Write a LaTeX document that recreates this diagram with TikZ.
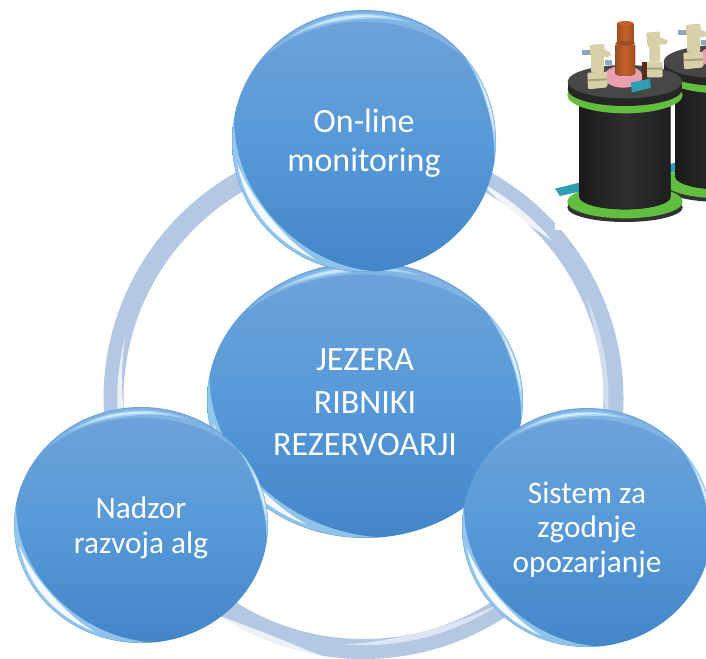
\documentclass[tikz,border=0pt]{standalone}
\usepackage{fontspec}
\setmainfont{Carlito}
\usetikzlibrary{shapes.geometric}
\definecolor{discTop}{HTML}{6FA3D9}
\definecolor{discMid}{HTML}{5799D8}
\definecolor{discBot}{HTML}{4386C8}
\definecolor{ringBlue}{HTML}{B4C7E3}
\definecolor{glow}{HTML}{A9D7F6}
\definecolor{flangeGreen}{HTML}{62BE3E}
\definecolor{tealPart}{HTML}{2F9DB2}
\definecolor{beigePart}{HTML}{D8D0A8}
\definecolor{beigeDark}{HTML}{A8A080}
\definecolor{postMain}{HTML}{C4622C}
\definecolor{postDark}{HTML}{A04E20}
\definecolor{collarPink}{HTML}{E8A0B0}
\definecolor{stubGrey}{HTML}{8FA6BC}
\definecolor{stickBrown}{HTML}{5A2A1C}
\tikzset{
  disc/.style={ellipse,inner sep=0pt,top color=discTop,bottom color=discBot,middle color=discMid},
  disctext/.style={text=white,align=center,inner sep=0pt,font=\fontsize{#1}{#1}\selectfont},
  ringline/.style={ellipse,draw=ringBlue,line width=20pt,inner sep=0pt,minimum width=500pt,minimum height=500pt},
  beige/.style={fill=beigePart,rounded corners=2pt},
  beigeband/.style={fill=beigeDark,rounded corners=1pt}
}
% crescent on the unit circle: from angle a to b, radius r, greatest thickness w
\newcommand{\crescent}[6]{%
  \fill[#5,opacity=#6]
    plot[domain=#1:#2,samples=40,smooth] ({#3*cos(\x)},{#3*sin(\x)})
    -- plot[domain=#2:#1,samples=40,smooth]
      ({(#3-#4*sin(180/((#2)-(#1))*(\x-(#1))))*cos(\x)},{(#3-#4*sin(180/((#2)-(#1))*(\x-(#1))))*sin(\x)})
    -- cycle;}
\newcommand{\bevel}[3]{%
  \begin{scope}[shift={(#1.center)},x=#2pt,y=#3pt]
    \crescent{40}{140}{0.99}{0.08}{glow}{0.35}
    \crescent{68}{126}{0.97}{0.04}{glow}{0.9}
    \crescent{78}{116}{0.96}{0.018}{white}{0.5}
    \crescent{170}{275}{0.998}{0.09}{glow}{0.75}
    \crescent{190}{248}{0.975}{0.055}{white}{0.9}
    \crescent{-8}{40}{0.998}{0.03}{glow}{0.9}
    \crescent{2}{30}{0.99}{0.014}{white}{0.7}
  \end{scope}}
\newcommand{\tank}{%
  % bottom flange
  \fill[black!80] (255,622) ellipse [x radius=173,y radius=44];
  \fill[flangeGreen] (255,605) ellipse [x radius=173,y radius=50];
  % foot
  \fill[tealPart] (45,566) -- (118,548) -- (118,575) -- (60,588) -- cycle;
  % body
  \fill[left color=black!90,right color=black!88,middle color=black!82]
    (118,300) -- (392,300) -- (392,590) arc[start angle=0,end angle=180,x radius=137,y radius=38] -- cycle;
  % top flange
  \fill[flangeGreen] (255,285) ellipse [x radius=173,y radius=55];
  \fill[black!85] (255,268) ellipse [x radius=172,y radius=50];
  \fill[black!85] (83,245) rectangle (427,268);
  \fill[black!72] (255,245) ellipse [x radius=172,y radius=50];
  % collar
  \fill[collarPink] (250,230) ellipse [x radius=58,y radius=33];
  % right fitting
  \fill[beige] (320,185) rectangle (368,232);
  \fill[beigeband] (320,203) rectangle (368,209);
  \fill[beige] (328,135) rectangle (360,185);
  \fill[beige] (318,98) -- (360,94) -- (362,138) -- (323,142) -- cycle;
  \fill[beige] (355,110) -- (385,122) -- (380,135) -- (355,132) -- cycle;
  % post
  \fill[left color=postDark,right color=postDark,middle color=postMain]
    (226,135) -- (285,135) -- (285,220) arc[start angle=0,end angle=180,x radius=29.5,y radius=8] -- cycle;
  \fill[left color=postDark,right color=postDark,middle color=postMain]
    (232,70) -- (280,70) -- (280,128) -- (232,128) -- cycle;
  \fill[postMain] (256,70) ellipse [x radius=24,y radius=7];
  \fill[postDark] (255.5,130) ellipse [x radius=29.5,y radius=7];
  % stick and block
  \fill[stickBrown] (306,187) rectangle (322,240);
  \fill[tealPart] (272,248) -- (330,236) -- (332,264) -- (276,277) -- cycle;
  % left fitting
  \fill[stubGrey] (125,150) rectangle (155,164);
  \fill[stubGrey] (195,180) rectangle (215,195);
  \fill[beige] (142,218) -- (201,215) -- (203,262) -- (144,268) -- cycle;
  \fill[beigeband] (142,238) -- (202,235) -- (202,241) -- (143,244) -- cycle;
  \fill[beige] (153,170) rectangle (192,218);
  \fill[beige] (148,135) -- (193,131) -- (195,172) -- (153,176) -- cycle;
  \fill[beige] (188,146) -- (215,158) -- (210,172) -- (188,170) -- cycle;
}
\begin{document}
\begin{tikzpicture}[x=1pt,y=-1pt]
  \useasboundingbox (0,0) rectangle (706,658);
  \clip (0,0) rectangle (706,658);
  \fill[white] (0,0) rectangle (706,658);

  % ring
  \node[ringline] (ring) at (363.5,399) {};
  \begin{scope}[shift={(ring.center)},x=250pt,y=250pt]
    \crescent{165}{225}{0.985}{0.03}{white}{0.75}
    \crescent{40}{62}{0.985}{0.03}{white}{0.8}
    \crescent{-8}{25}{0.98}{0.025}{white}{0.4}
    \crescent{265}{305}{0.985}{0.025}{white}{0.55}
    \crescent{235}{262}{1.045}{0.03}{white}{0.75}
  \end{scope}

  % centre disc
  \node[disc,minimum width=316pt,minimum height=276pt] (centre) at (365,400) {};
  \bevel{centre}{158}{138}
  % outer discs
  \node[disc,minimum width=264pt,minimum height=262pt] (top) at (364,141) {};
  \bevel{top}{132}{131}
  \node[disc,minimum width=254pt,minimum height=236pt] (left) at (141,525) {};
  \bevel{left}{127}{118}
  \node[disc,minimum width=250pt,minimum height=239pt] (right) at (587,527.5) {};
  \bevel{right}{125}{119.5}

  % labels
  \node[disctext=34] (tTop) at ([yshift=-2pt]top.center) {On-line\\[5pt]monitoring};
  \node[disctext=34] (tCentre) at ([yshift=-2.5pt]centre.center) {JEZERA\\[8.5pt]RIBNIKI\\[8.5pt]REZERVOARJI};
  \node[disctext=31.3] (tLeft) at ([yshift=-3pt]left.center) {Nadzor\\[4pt]razvoja alg};
  \node[disctext=31.3] (tRight) at ([yshift=-2pt]right.center) {Sistem za\\[3.2pt]zgodnje\\[3.2pt]opozarjanje};

  % picture of the tanks
  \fill[white] (555,0) rectangle (706,230);
  \begin{scope}
    \clip (555,0) rectangle (706,230);
    \begin{scope}[shift={(540,0)},x=0.33333pt,y=-0.33333pt]
      \begin{scope}[shift={(288,-60)}]\tank\end{scope}
      \tank
    \end{scope}
  \end{scope}
\end{tikzpicture}
\end{document}
